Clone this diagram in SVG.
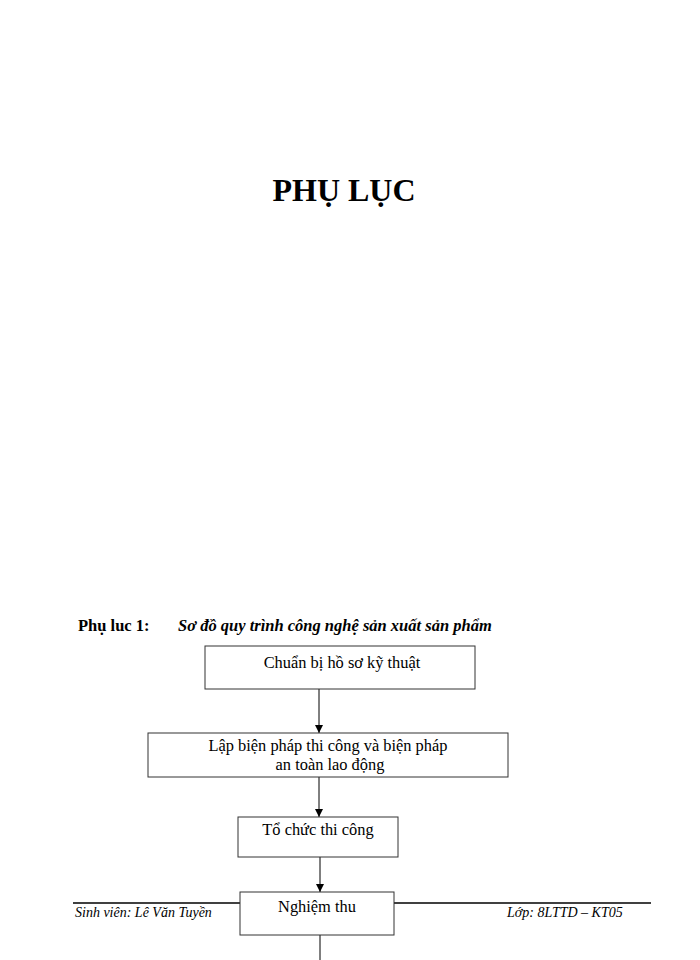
<svg xmlns="http://www.w3.org/2000/svg" width="700" height="960" viewBox="0 0 700 960">
<defs>
<marker id="ah" viewBox="0 0 8 10" refX="8" refY="5" markerWidth="8" markerHeight="10" markerUnits="userSpaceOnUse" orient="auto">
<path d="M0,1 L8,5 L0,9 Z" fill="#000"/>
</marker>
</defs>
<style>
.t{font-family:"Liberation Serif","Times New Roman",serif;fill:#000}
.box{fill:#fff;stroke:#333;stroke-width:1}
.lbl{font-size:16.4px;text-anchor:middle}
.conn{stroke:#000;stroke-width:1;fill:none}
.foot{font-size:14px;font-style:italic}
</style>
<rect x="0" y="0" width="700" height="960" fill="#fff"/>
<text class="t" x="344" y="201" font-size="32" font-weight="bold" text-anchor="middle">PHỤ LỤC</text>
<text class="t" x="78" y="631" font-size="16.5" font-weight="bold">Phụ luc 1:</text>
<text class="t" x="178" y="631" font-size="16.5" font-weight="bold" font-style="italic">Sơ đồ quy trình công nghệ sản xuất sản phẩm</text>
<g id="footer">
<line x1="73" y1="903" x2="651" y2="903" stroke="#000" stroke-width="1.5"/>
<text class="t foot" x="75" y="917">Sinh viên: Lê Văn Tuyền</text>
<text class="t foot" x="507" y="917">Lớp: 8LTTD – KT05</text>
</g>
<g id="connectors">
<line class="conn" x1="319" y1="689" x2="319" y2="733" marker-end="url(#ah)"/>
<line class="conn" x1="319" y1="777" x2="319" y2="817" marker-end="url(#ah)"/>
<line class="conn" x1="320" y1="857" x2="320" y2="892" marker-end="url(#ah)"/>
<line class="conn" x1="320" y1="935" x2="320" y2="960"/>
</g>
<g id="n1">
<rect class="box" x="205" y="646" width="270" height="43"/>
<text class="t lbl" x="342" y="668">Chuẩn bị hồ sơ kỹ thuật</text>
</g>
<g id="n2">
<rect class="box" x="148" y="733" width="360" height="44"/>
<text class="t lbl" x="328" y="751">Lập biện pháp thi công và biện pháp</text>
<text class="t lbl" x="330" y="770">an toàn lao động</text>
</g>
<g id="n3">
<rect class="box" x="238" y="817" width="160" height="40"/>
<text class="t lbl" x="318" y="835">Tổ chức thi công</text>
</g>
<g id="n4">
<rect class="box" x="240" y="892" width="154" height="43"/>
<text class="t lbl" x="317" y="912">Nghiệm thu</text>
</g>
</svg>
